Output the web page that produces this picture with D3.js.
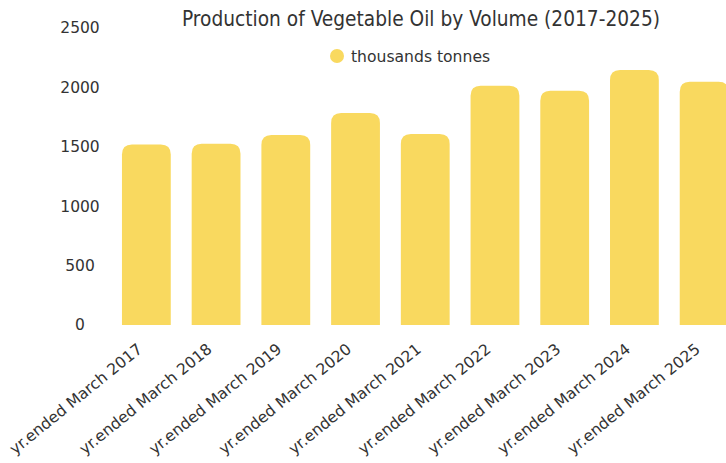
<!DOCTYPE html>
<html>
<head>
<meta charset="utf-8">
<script src="https://cdn.jsdelivr.net/npm/d3@7"></script>
<style>
  body { margin: 0; background: #fff; }
  svg { display: block; font-family: "DejaVu Sans", Verdana, sans-serif; }
</style>
</head>
<body>
<svg id="chart" width="726" height="463"></svg>
<script>
// 1: DATA
const years = ["2017", "2018", "2019", "2020", "2021", "2022", "2023", "2024", "2025"];
const categories = years.map(y => "yr.ended March " + y);
const production = [1519, 1526, 1599, 1785, 1608, 2014, 1972, 2146, 2048];
const yTicks = [0, 500, 1000, 1500, 2000, 2500];
const seriesName = "thousands tonnes";
const chartTitle = "Production of Vegetable Oil by Volume (2017-2025)";

const barColor = "#f9d95f";
const textColor = "#333";

const svg = d3.select("#chart");

// 2: SCALES
const x = d3.scaleBand()
    .domain(categories)
    .range([111.5, 739])
    .paddingInner(0.3)
    .paddingOuter(0.15);

const y = d3.scaleLinear()
    .domain([0, 2500])
    .range([325, 28]);

// 3: BARS (rounded top corners)
const r = 10;
function barPath(d, i) {
    const x0 = x(categories[i]);
    const w = x.bandwidth();
    const y0 = y(d);
    const yb = y(0);
    return `M${x0},${yb} L${x0},${y0 + r} Q${x0},${y0} ${x0 + r},${y0} ` +
           `L${x0 + w - r},${y0} Q${x0 + w},${y0} ${x0 + w},${y0 + r} L${x0 + w},${yb} Z`;
}

svg.append("g")
    .selectAll("path")
    .data(production)
    .join("path")
    .attr("d", barPath)
    .attr("fill", barColor);

// 4: Y AXIS (labels only)
const yAxis = svg.append("g")
    .attr("transform", "translate(80,0)")
    .call(d3.axisLeft(y).tickValues(yTicks).tickFormat(d3.format("d")).tickSize(0).tickPadding(0));
yAxis.select(".domain").remove();
yAxis.selectAll("text")
    .attr("text-anchor", "middle")
    .attr("font-size", 15.5)
    .attr("font-family", "DejaVu Sans, Verdana, sans-serif")
    .attr("fill", textColor);

// 5: X AXIS (rotated labels)
const xAxis = svg.append("g")
    .attr("transform", `translate(0,${y(0)})`)
    .call(d3.axisBottom(x).tickSize(0).tickPadding(0));
xAxis.select(".domain").remove();
xAxis.selectAll("text")
    .attr("text-anchor", "end")
    .attr("font-size", 15.6)
    .attr("font-family", "DejaVu Sans, Verdana, sans-serif")
    .attr("fill", textColor)
    .attr("dy", 0)
    .attr("transform", "translate(-3,26) rotate(-39)");

// 6: TITLE AND LEGEND
svg.append("text")
    .attr("x", 421)
    .attr("y", 26)
    .attr("text-anchor", "middle")
    .attr("font-family", "DejaVu Sans Condensed, DejaVu Sans, sans-serif")
    .attr("font-size", 21)
    .attr("textLength", 478)
    .attr("lengthAdjust", "spacingAndGlyphs")
    .attr("fill", textColor)
    .text(chartTitle);

const legend = svg.append("g").attr("transform", "translate(337,56)");
legend.append("circle")
    .attr("r", 7)
    .attr("fill", barColor);
legend.append("text")
    .attr("x", 14)
    .attr("y", 5.5)
    .attr("font-size", 15.6)
    .attr("fill", textColor)
    .text(seriesName);
</script>
</body>
</html>
